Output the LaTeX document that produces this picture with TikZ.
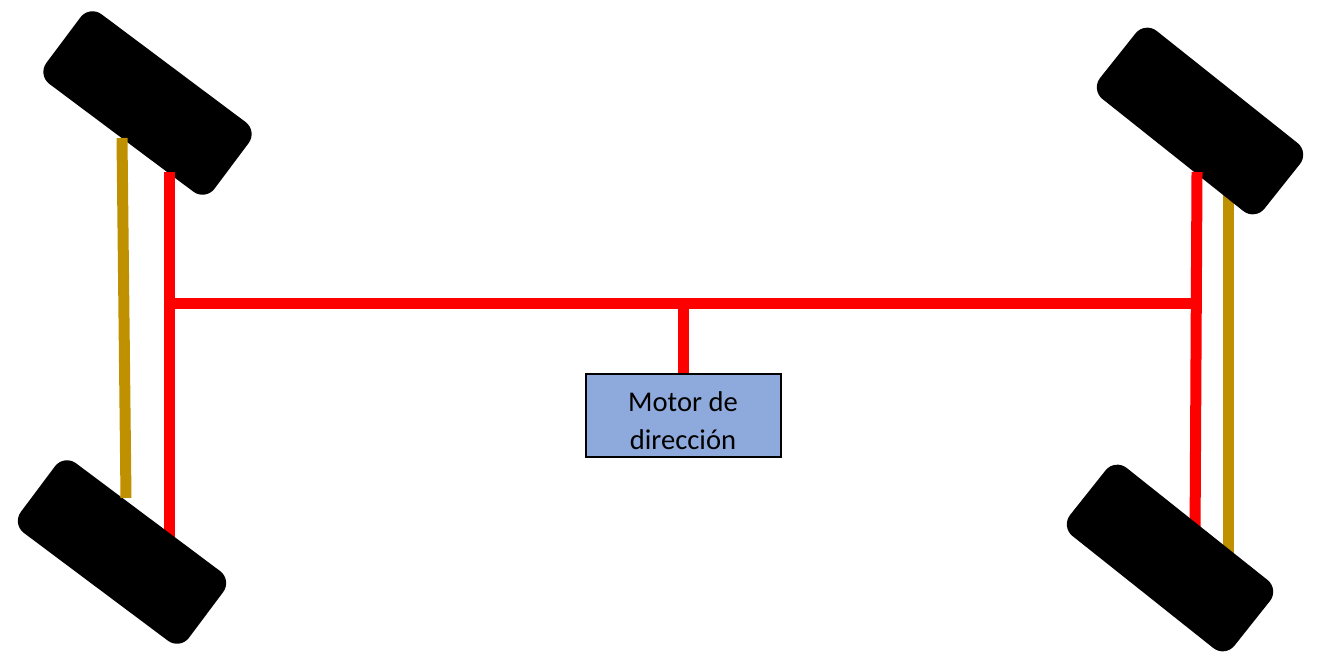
\documentclass[tikz,border=0pt]{standalone}
\usepackage{fontspec}
\setmainfont{Carlito}
\definecolor{gold}{HTML}{BF9000}
\definecolor{motorblue}{HTML}{8EA9DB}
\tikzset{
  wheel/.style={fill=black,draw=none,rounded corners=15pt,minimum width=210pt,minimum height=87pt,inner sep=0pt},
  redbar/.style={draw=red,line width=11pt},
  goldbar/.style={draw=gold,line width=11pt},
  motorbox/.style={draw=black,line width=2pt,fill=motorblue,minimum width=195pt,minimum height=83pt,align=center,inner sep=0pt,font=\fontsize{28.6pt}{38pt}\selectfont}
}
\begin{document}
\begin{tikzpicture}[x=1pt,y=-1pt]
\useasboundingbox (0,0) rectangle (1332,663);
\coordinate (rTL) at (169.5,172);
\coordinate (rBL) at (169.5,548);
\coordinate (rTR) at (1197,172);
\coordinate (rBR) at (1195,540);
\coordinate (jL) at (169.5,303);
\coordinate (jR) at (1196,303);
\coordinate (jM) at (683,303);
\coordinate (gTL) at (122,138);
\coordinate (gBL) at (126,498);
\coordinate (gTR) at (1228,180);
\coordinate (gBR) at (1228,565);
\draw[goldbar] (gTR) -- (gBR);
\node[wheel,rotate=-36.8] (wTL) at (147.5,103) {};
\node[wheel,rotate=-38.5] (wTR) at (1200,121) {};
\node[motorbox] (motor) at (683,415) {\rule{0pt}{32pt}Motor de\\dirección};
\draw[redbar] (rTL) -- (rBL);
\draw[redbar] (rTR) -- (rBR);
\draw[redbar] (jL) -- (jR);
\draw[redbar] (jM) -- (motor.north);
\node[wheel,rotate=-36.8] (wBL) at (122,552) {};
\node[wheel,rotate=-38.5] (wBR) at (1170,558) {};
\draw[goldbar] (gTL) -- (gBL);
\end{tikzpicture}
\end{document}
